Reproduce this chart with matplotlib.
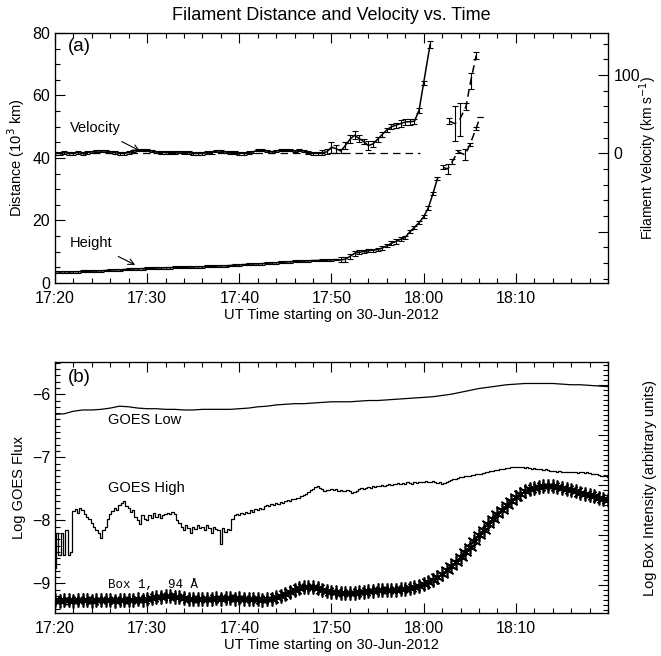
import numpy as np
import matplotlib.pyplot as plt
from matplotlib.ticker import MultipleLocator, FixedLocator, NullFormatter

plt.rcParams['font.family'] = ['Liberation Sans', 'DejaVu Sans']

# --- Panel (a): filament height and velocity (minutes after 17:20 UT) ---
hgt_t = np.arange(0, 41.75, 0.5)
hgt = [3.6, 3.5, 3.6, 3.5, 3.6, 3.6, 3.7, 3.7, 3.8, 3.8, 3.9,
       4.0, 4.1, 4.2, 4.2, 4.3, 4.4, 4.5, 4.5, 4.6, 4.7,
       4.7, 4.8, 4.8, 4.9, 4.9, 5.0, 5.0, 5.0, 5.1, 5.1,
       5.2, 5.2, 5.3, 5.3, 5.4, 5.5, 5.5, 5.6, 5.7, 5.8,
       5.9, 6.0, 6.1, 6.1, 6.2, 6.3, 6.4, 6.5, 6.6, 6.7,
       6.8, 6.9, 7.0, 7.0, 7.1, 7.2, 7.2, 7.3, 7.3, 7.4,
       7.5, 7.4, 7.6, 8.5, 9.5, 9.8, 10.1, 10.3, 10.5, 10.7,
       11.2, 11.9, 12.7, 13.3, 14.0, 14.6, 16.4, 17.8, 19.3, 21.2,
       24.0, 28.5, 33.5]
hgt_err = [0.3] * 62 + [0.8, 0.8, 0.9, 0.8, 0.6, 0.5, 0.5, 0.5, 0.5, 0.5,
                        0.5, 0.6, 0.9, 0.6, 0.5, 0.5, 0.5, 0.5, 0.5, 0.5,
                        0.5, 0.5]

hgt2_t = [42.1, 42.6, 43.1, 43.7, 44.5, 45.0, 45.7, 46.1]
hgt2 = [37.0, 36.5, 38.8, 42.0, 41.0, 44.2, 49.5, 53.0]
hgt2_err = [0.6, 1.5, 0.8, 0.5, 1.8, 0.5, 0.5, 0.0]

vel_t = list(np.arange(0, 40.25, 0.5)) + [40.7]
vel = [0, 0, 1, 0, 0, 1, 0, 1, 2, 3,
       3, 3, 2, 1, 0, 0, 1, 3, 4, 4,
       4, 3, 2, 1, 1, 1, 1, 2, 1, 1,
       0, 0, 0, 1, 1, 3, 3, 2, 1, 1,
       0, 0, 1, 2, 4, 4, 3, 2, 3, 4,
       4, 4, 3, 4, 3, 1, 0, 0, 1, 2,
       8, 6, 3, 10, 18, 23, 19, 15, 10, 12,
       18, 24, 30, 34, 36, 38, 40, 40.5, 41, 55,
       90, 139]
vel_err = [1.5] * 58 + [3, 3, 7, 5, 3, 5, 5, 5, 4, 3, 6, 4,
                        3, 3, 3, 3, 3, 4, 4, 4, 3, 3, 3, 4]

vel2_t = [42.8, 43.4, 43.9, 44.6, 45.1, 45.7]
vel2 = [41, 38, 43, 60, 92, 125]
vel2_err = [4, 22, 21, 4, 10, 5]

# --- Panel (b): GOES and AIA box light curves ---
gl_t = np.arange(0, 61, 1.0)
goes_low = [-6.32, -6.31, -6.27, -6.25, -6.25, -6.24, -6.22, -6.19, -6.20, -6.22,
            -6.23, -6.23, -6.24, -6.24, -6.25, -6.25, -6.24, -6.24, -6.24, -6.24,
            -6.23, -6.22, -6.20, -6.19, -6.17, -6.16, -6.15, -6.15, -6.14, -6.13,
            -6.12, -6.12, -6.12, -6.11, -6.10, -6.10, -6.09, -6.08, -6.07, -6.06,
            -6.05, -6.04, -6.02, -6.00, -5.97, -5.94, -5.91, -5.89, -5.87, -5.85,
            -5.84, -5.83, -5.83, -5.83, -5.83, -5.84, -5.85, -5.85, -5.86, -5.87,
            -5.88]

gh_t = np.arange(0, 60.1, 0.25)
goes_high = [-8.75, -8.2, -8.55, -8.2, -8.55, -8.15, -8.55, -8.5,
             -7.85, -7.82, -7.88, -7.8, -7.84, -7.9, -7.95, -7.98,
             -8.05, -8.1, -8.15, -8.2, -8.28, -8.15, -8.1, -7.98,
             -7.9, -7.85, -7.8, -7.83, -7.76, -7.72, -7.7, -7.78,
             -7.8, -7.86, -7.84, -7.95, -8.0, -8.06, -7.92, -7.98,
             -8.0, -7.92, -7.96, -7.88, -7.94, -7.9, -7.97, -7.92,
             -7.9, -7.88, -7.9, -7.87, -7.9, -8.0, -8.05, -8.1,
             -8.15, -8.08, -8.12, -8.2, -8.1, -8.14, -8.08, -8.12,
             -8.1, -8.15, -8.08, -8.12, -8.2, -8.1, -8.13, -8.15,
             -8.37, -8.12, -8.18, -8.14, -8.15, -7.98, -7.92, -7.9,
             -7.92, -7.88, -7.9, -7.86, -7.88, -7.84, -7.86, -7.82,
             -7.84, -7.8, -7.82, -7.78, -7.76, -7.78, -7.74, -7.76,
             -7.72, -7.74, -7.71, -7.73, -7.7, -7.68, -7.7, -7.66,
             -7.66, -7.64, -7.65, -7.62, -7.6, -7.58, -7.55, -7.52,
             -7.5, -7.47, -7.45, -7.48, -7.5, -7.53, -7.52, -7.52,
             -7.51, -7.52, -7.5, -7.53, -7.52, -7.54, -7.53, -7.52,
             -7.53, -7.56, -7.55, -7.53, -7.5, -7.49, -7.5, -7.48,
             -7.47, -7.48, -7.46, -7.47, -7.45, -7.46, -7.44, -7.45,
             -7.44, -7.43, -7.44, -7.42, -7.43, -7.41, -7.42, -7.41,
             -7.42, -7.4, -7.41, -7.42, -7.4, -7.41, -7.39, -7.4,
             -7.39, -7.38, -7.39, -7.4, -7.38, -7.4, -7.41, -7.4,
             -7.42, -7.41, -7.39, -7.37, -7.36, -7.35, -7.34, -7.33,
             -7.32, -7.31, -7.3, -7.3, -7.29, -7.28, -7.28, -7.27,
             -7.27, -7.26, -7.25, -7.24, -7.23, -7.22, -7.21, -7.2,
             -7.2, -7.19, -7.18, -7.18, -7.17, -7.17, -7.16, -7.16,
             -7.15, -7.16, -7.15, -7.15, -7.17, -7.16, -7.17, -7.18,
             -7.17, -7.18, -7.19, -7.18, -7.2, -7.19, -7.2, -7.21,
             -7.21, -7.22, -7.23, -7.22, -7.23, -7.24, -7.23, -7.24,
             -7.24, -7.23, -7.24, -7.25, -7.24, -7.24, -7.25, -7.24,
             -7.25, -7.26, -7.26, -7.27, -7.28, -7.29, -7.3, -7.3,
             -7.31]

box_t = np.arange(0, 60.1, 0.5)
box94 = [-9.27, -9.28, -9.26, -9.27, -9.28, -9.27, -9.26, -9.27, -9.28, -9.27,
         -9.27, -9.26, -9.27, -9.28, -9.26, -9.27, -9.27, -9.26, -9.25, -9.26,
         -9.24, -9.23, -9.22, -9.21, -9.2, -9.2, -9.21, -9.22, -9.23, -9.24,
         -9.24, -9.25, -9.24, -9.25, -9.24, -9.23, -9.24, -9.23, -9.23, -9.24,
         -9.23, -9.24, -9.24, -9.25, -9.25, -9.26, -9.25, -9.24, -9.22, -9.2,
         -9.17, -9.14, -9.11, -9.08, -9.06, -9.05, -9.06, -9.08, -9.1, -9.12,
         -9.13, -9.14, -9.15, -9.16, -9.16, -9.15, -9.14, -9.13, -9.12, -9.12,
         -9.11, -9.11, -9.1, -9.1, -9.1, -9.09, -9.09, -9.08, -9.06, -9.04,
         -9.01, -8.98, -8.94, -8.9, -8.85, -8.79, -8.72, -8.66, -8.58, -8.5,
         -8.42, -8.33, -8.24, -8.15, -8.06, -7.98, -7.9, -7.83, -7.76, -7.69,
         -7.63, -7.58, -7.54, -7.51, -7.48, -7.47, -7.46, -7.45, -7.46, -7.47,
         -7.49, -7.51, -7.52, -7.54, -7.56, -7.58, -7.6, -7.62, -7.64, -7.66,
         -7.67]

xticks = [0, 10, 20, 30, 40, 50]
xticklabels = ['17:20', '17:30', '17:40', '17:50', '18:00', '18:10']
xlabel = 'UT Time starting on 30-Jun-2012'


def style_axis(ax):
    ax.set_xlim(0, 60)
    ax.set_xticks(xticks)
    ax.set_xticklabels(xticklabels)
    ax.xaxis.set_minor_locator(MultipleLocator(2))
    ax.tick_params(axis='x', which='both', direction='in', top=True, labelsize=11.5, pad=6)
    ax.tick_params(axis='both', which='major', length=7, width=0.8)
    ax.tick_params(axis='both', which='minor', length=3.5, width=0.8)
    ax.tick_params(axis='y', which='both', direction='in', labelsize=11.5)
    ax.set_xlabel(xlabel, fontsize=10.5, labelpad=1)
    for s in ax.spines.values():
        s.set_linewidth(0.9)


def style_right(ax):
    ax.tick_params(axis='y', which='both', direction='in', labelsize=11.5, pad=4)
    ax.tick_params(axis='y', which='major', length=7, width=0.8)
    ax.tick_params(axis='y', which='minor', length=3.5, width=0.8)


fig = plt.figure(figsize=(6.61, 6.56), dpi=100)

# Panel (a)
ax1 = fig.add_axes([0.0832, 0.5686, 0.8366, 0.3811])
style_axis(ax1)
ax1.set_ylim(0, 80)
ax1.yaxis.set_major_locator(MultipleLocator(20))
ax1.yaxis.set_minor_locator(MultipleLocator(5))
ax1.tick_params(axis='y', right=False)
ax1.set_ylabel('Distance (10$^3$ km)', fontsize=10.5, labelpad=4)
ax1.errorbar(hgt_t, hgt, yerr=hgt_err, color='k', lw=1.1, elinewidth=0.8, capsize=2, capthick=0.8)
ax1.errorbar(hgt2_t, hgt2, yerr=hgt2_err, color='k', lw=1.1, ls=(0, (5, 3)), elinewidth=0.8, capsize=2.5, capthick=0.8)

ax1v = ax1.twinx()
ax1v.set_ylim(-165.5, 153.7)
ax1v.yaxis.set_major_locator(FixedLocator([-100, 0, 100]))
ax1v.set_yticklabels(['', '0', '100'])
ax1v.yaxis.set_minor_locator(MultipleLocator(20))
style_right(ax1v)
ax1v.set_ylabel('Filament Velocity (km s$^{-1}$)', fontsize=10, labelpad=-2)
ax1v.plot([0, 39.6], [0, 0], color='k', lw=0.9, ls=(0, (6, 4)))
ax1v.errorbar(vel_t, vel, yerr=vel_err, color='k', lw=1.1, elinewidth=0.8, capsize=2, capthick=0.8)
ax1v.errorbar(vel2_t, vel2, yerr=vel2_err, color='k', lw=1.1, ls=(0, (5, 3)), elinewidth=0.8, capsize=2.5, capthick=0.8)

ax1.text(0.024, 0.944, '(a)', transform=ax1.transAxes, fontsize=13.5, va='center')
ax1.annotate('Velocity', xy=(9.2, 42.3), xytext=(1.6, 49.6), fontsize=10.5, va='center',
             arrowprops=dict(arrowstyle='->', lw=0.8, color='k', shrinkA=6, shrinkB=0))
ax1.annotate('Height', xy=(8.7, 5.8), xytext=(1.6, 12.8), fontsize=10.5, va='center',
             arrowprops=dict(arrowstyle='->', lw=0.8, color='k', shrinkA=6, shrinkB=0))
fig.text(0.5015, 0.977, 'Filament Distance and Velocity vs. Time', ha='center', va='center', fontsize=13)

# Panel (b)
ax2 = fig.add_axes([0.0832, 0.0655, 0.8366, 0.3826])
style_axis(ax2)
ax2.set_ylim(-9.47, -5.49)
ax2.yaxis.set_major_locator(MultipleLocator(1))
ax2.yaxis.set_minor_locator(MultipleLocator(0.1))
ax2.tick_params(axis='y', right=False)
ax2.set_ylabel('Log GOES Flux', fontsize=10.5, labelpad=4)
ax2.plot(gl_t, goes_low, color='k', lw=0.9)
ax2.plot(gh_t, goes_high, color='k', lw=0.9, drawstyle='steps-mid')
ax2.plot(box_t, box94, color='k', lw=0.9, marker=(6, 2, 0), ms=10, mew=1.2)
ax2.text(5.75, -6.41, 'GOES Low', fontsize=10.5, va='center')
ax2.text(5.75, -7.49, 'GOES High', fontsize=10.5, va='center')
ax2.text(5.75, -9.03, 'Box 1,  94 Å', fontsize=9, va='center', family=['Liberation Mono', 'DejaVu Sans Mono'])
ax2.text(0.024, 0.94, '(b)', transform=ax2.transAxes, fontsize=13.5, va='center')

ax2b = ax2.twinx()
ax2b.set_ylim(-0.56, 4.46)
ax2b.yaxis.set_major_locator(MultipleLocator(1))
ax2b.yaxis.set_minor_locator(MultipleLocator(0.1))
ax2b.yaxis.set_major_formatter(NullFormatter())
style_right(ax2b)
ax2b.set_ylabel('Log Box Intensity (arbitrary units)', fontsize=10.5, labelpad=21)

fig.savefig('out.png', dpi=100)
